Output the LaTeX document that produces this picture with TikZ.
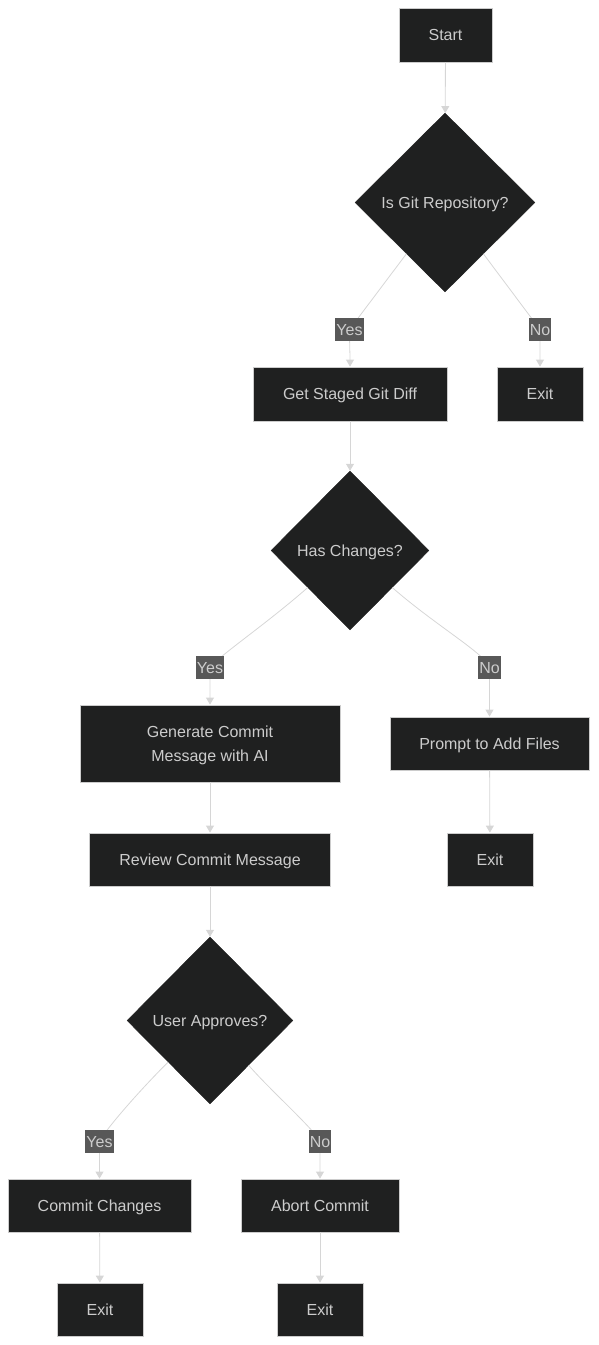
\documentclass[tikz,border=0pt]{standalone}
\usepackage{fontspec}
\setmainfont{Liberation Sans}
\usetikzlibrary{shapes.geometric,arrows.meta}
\definecolor{nodefill}{HTML}{1F2020}
\definecolor{nodeline}{HTML}{CCCCCC}
\definecolor{txt}{HTML}{CCCCCC}
\definecolor{edgecol}{HTML}{D6D6D6}
\definecolor{labfill}{HTML}{585858}
\begin{document}
\begin{tikzpicture}[x=1pt,y=-1pt,
  every node/.style={font=\fontsize{16}{24}\selectfont, text=txt, text depth=0pt},
  box/.style={draw=nodeline, line width=0.8pt, fill=nodefill, rectangle, inner sep=0pt, align=center},
  dec/.style={diamond, fill=nodefill, draw=nodefill, inner sep=0pt, aspect=1},
  edge/.style={draw=edgecol, line width=0.8pt, -{Triangle[length=7pt,width=8pt]}},
  lab/.style={fill=labfill, inner sep=1pt, minimum height=23pt, text=txt}]
\path[use as bounding box] (0,0) rectangle (598,1345);

% nodes
\node[box, minimum width=93pt, minimum height=54pt] (start) at (445.5,35) {Start};
\node[dec, minimum width=180pt, minimum height=179pt] (git) at (445,202.5) {Is Git Repository?};
\node[box, minimum width=194pt, minimum height=54pt] (diff) at (350,394) {Get Staged Git Diff};
\node[box, minimum width=86pt, minimum height=54pt] (exit1) at (540,394) {Exit};
\node[dec, minimum width=158pt, minimum height=159pt] (chg) at (350,550.5) {Has Changes?};
\node[box, minimum width=260pt, minimum height=77pt] (gen) at (210,743.5) {Generate Commit\\Message with AI};
\node[box, minimum width=199pt, minimum height=53pt] (prompt) at (489.5,743.5) {Prompt to Add Files};
\node[box, minimum width=241pt, minimum height=53pt] (review) at (210,859.5) {Review Commit Message};
\node[box, minimum width=86pt, minimum height=53pt] (exit2) at (490,859.5) {Exit};
\node[dec, minimum width=166pt, minimum height=167pt] (appr) at (210,1020.5) {User Approves?};
\node[box, minimum width=183pt, minimum height=53pt] (commit) at (99.5,1205.5) {Commit Changes};
\node[box, minimum width=158pt, minimum height=53pt] (abort) at (320,1205.5) {Abort Commit};
\node[box, minimum width=86pt, minimum height=53pt] (exit3) at (100,1309.5) {Exit};
\node[box, minimum width=86pt, minimum height=53pt] (exit4) at (320,1309.5) {Exit};

% label positions
\coordinate (y1) at (349.5,329.5);
\coordinate (n1) at (540,329.5);
\coordinate (y2) at (210,667.5);
\coordinate (n2) at (489.5,667.5);
\coordinate (y3) at (99.5,1141.5);
\coordinate (n3) at (320,1141.5);

% edges
\draw[edge] (start) -- (git);
\draw[edge] (git) -- (y1) to[out=-90,in=90] (diff.north);
\draw[edge] (git) -- (n1) to[out=-90,in=90] (exit1.north);
\draw[edge] (diff) -- (chg);
\draw[edge] (chg) .. controls (265,625) and (220,655) .. (y2) -- (gen.north);
\draw[edge] (chg) .. controls (435,625) and (487,655) .. (n2) -- (prompt.north);
\draw[edge] (gen) -- (review);
\draw[edge] (prompt) -- (exit2);
\draw[edge] (review) -- (appr);
\draw[edge] (appr) .. controls (140,1090) and (105,1130) .. (y3) -- (commit.north);
\draw[edge] (appr) .. controls (270,1090) and (315,1130) .. (n3) -- (abort.north);
\draw[edge] (commit) -- (exit3);
\draw[edge] (abort) -- (exit4);

% labels
\node[lab] (ly1) at (y1) {Yes};
\node[lab] (ln1) at (n1) {No};
\node[lab] (ly2) at (y2) {Yes};
\node[lab] (ln2) at (n2) {No};
\node[lab] (ly3) at (y3) {Yes};
\node[lab] (ln3) at (n3) {No};
\end{tikzpicture}
\end{document}
